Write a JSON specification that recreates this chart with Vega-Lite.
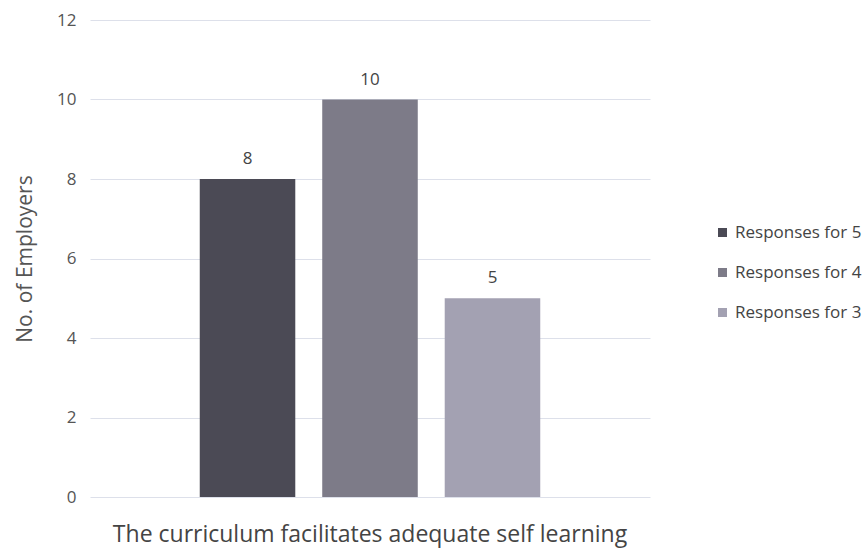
{
  "$schema": "https://vega.github.io/schema/vega-lite/v6.json",
  "width": 560,
  "height": 477,
  "autosize": {"type": "none"},
  "padding": {"left": 90, "top": 20, "right": 213, "bottom": 55},
  "background": "white",
  "config": {
    "font": "Open Sans",
    "view": {"stroke": null},
    "axis": {"labelColor": "#555555", "titleColor": "#555555", "titleFontWeight": "normal"}
  },
  "data": {
    "values": [
      {"statement": "The curriculum facilitates adequate self learning", "series": "Responses for 5", "count": 8},
      {"statement": "The curriculum facilitates adequate self learning", "series": "Responses for 4", "count": 10},
      {"statement": "The curriculum facilitates adequate self learning", "series": "Responses for 3", "count": 5}
    ]
  },
  "encoding": {
    "x": {
      "field": "statement", "type": "nominal",
      "scale": {"paddingInner": 0, "paddingOuter": 0.262},
      "axis": {"title": null, "labelAngle": 0, "labelFontSize": 23, "labelPadding": 26, "labelLimit": 0, "domain": false, "ticks": false, "labelColor": "#444444"}
    },
    "xOffset": {
      "field": "series", "type": "nominal",
      "sort": ["Responses for 5", "Responses for 4", "Responses for 3"],
      "scale": {"paddingInner": 0.22, "paddingOuter": 0.11}
    },
    "y": {
      "field": "count", "type": "quantitative",
      "scale": {"domain": [0, 12]},
      "axis": {
        "title": "No. of Employers", "titleFontSize": 21, "titlePadding": 21,
        "values": [0, 2, 4, 6, 8, 10, 12], "labelFontSize": 17, "labelPadding": 14,
        "domain": false, "ticks": false, "gridColor": "#dde0ea", "gridWidth": 1
      }
    }
  },
  "layer": [
    {
      "mark": {"type": "bar"},
      "encoding": {
        "color": {
          "field": "series", "type": "nominal",
          "sort": ["Responses for 5", "Responses for 4", "Responses for 3"],
          "scale": {"domain": ["Responses for 5", "Responses for 4", "Responses for 3"], "range": ["#4b4a55", "#7d7b88", "#a3a1b2"]},
          "legend": {
            "title": null, "orient": "none", "legendX": 624, "legendY": 204,
            "symbolType": "square", "symbolSize": 81, "labelFontSize": 17, "labelColor": "#444444",
            "rowPadding": 22, "labelOffset": 4, "symbolStrokeWidth": 0
          }
        }
      }
    },
    {
      "mark": {"type": "text", "dy": -20, "fontSize": 17, "color": "#444444"},
      "encoding": {"text": {"field": "count", "type": "quantitative"}}
    }
  ]
}
